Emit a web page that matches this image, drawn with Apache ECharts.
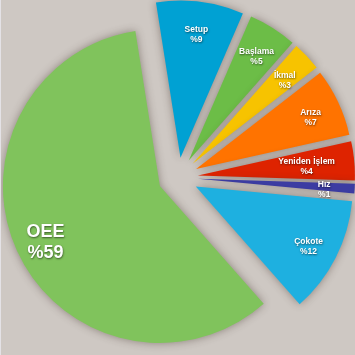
<!DOCTYPE html>
<html>
<head>
<meta charset="utf-8">
<script src="https://cdn.jsdelivr.net/npm/echarts@6/dist/echarts.min.js"></script>
<style>
  html, body { margin: 0; padding: 0; background: #e4e2e6; }
  #chart { position: absolute; left: 1px; top: 0; width: 354px; height: 355px; background: #cec8c3; }
</style>
</head>
<body>
<div id="chart"></div>
<script>
  // dilimler (saat yönünde, tepeden başlayarak)
  var names = ['Setup', 'Başlama', 'İkmal', 'Arıza', 'Yeniden İşlem', 'Hız', 'Çokote', 'OEE'];
  var values = [9, 5, 3, 7, 4, 1, 12, 59];
  var colors = ['#00a1d3', '#6cbd47', '#f7c300', '#ff7300', '#de2300', '#3c3ca2', '#1eb0e0', '#80c35c'];

  var W = 354;
  var OFFSET = 20;
  var myChart = echarts.init(document.getElementById('chart'));

  var pieData = names.map(function (n, i) {
    return { name: n, value: values[i], selected: true, itemStyle: { color: colors[i] } };
  });
  var labelData = names.map(function (n, i) {
    var big = n === 'OEE';
    return {
      name: n, value: values[i], selected: true,
      label: big ? { fontSize: 18, lineHeight: 21 } : {}
    };
  });

  var common = {
    type: 'pie',
    center: ['50%', '50%'],
    startAngle: 99,
    clockwise: true,
    selectedMode: 'multiple',
    selectedOffset: OFFSET,
    animation: false,
    silent: true,
    emphasis: { disabled: true }
  };

  myChart.setOption({
    backgroundColor: 'transparent',
    series: [
      Object.assign({}, common, {
        radius: [0, 157],
        label: { show: false },
        labelLine: { show: false },
        itemStyle: { shadowBlur: 8, shadowColor: 'rgba(60,45,35,0.45)' },
        data: pieData
      }),
      // sadece etiketler için görünmez halka
      Object.assign({}, common, {
        radius: [90, 157],
        itemStyle: { color: 'rgba(0,0,0,0)' },
        label: {
          show: true,
          position: 'inside',
          formatter: function (p) { return p.name + '\n%' + p.value; },
          color: '#fff',
          fontFamily: 'Liberation Sans',
          fontWeight: 'bold',
          fontSize: 8.5,
          lineHeight: 10,
          textShadowColor: 'rgba(0,0,0,0.55)',
          textShadowBlur: 2,
          textShadowOffsetX: 0.5,
          textShadowOffsetY: 1
        },
        labelLine: { show: false },
        labelLayout: function (p) {
          // labelRect seçili kaydırmayı içermiyor
          var r = p.labelRect;
          var over = r.x + r.width - (W - 20 - OFFSET);
          return { dx: over > 0 ? -over : 0, dy: 3 };
        },
        data: labelData
      })
    ]
  });
</script>
</body>
</html>
